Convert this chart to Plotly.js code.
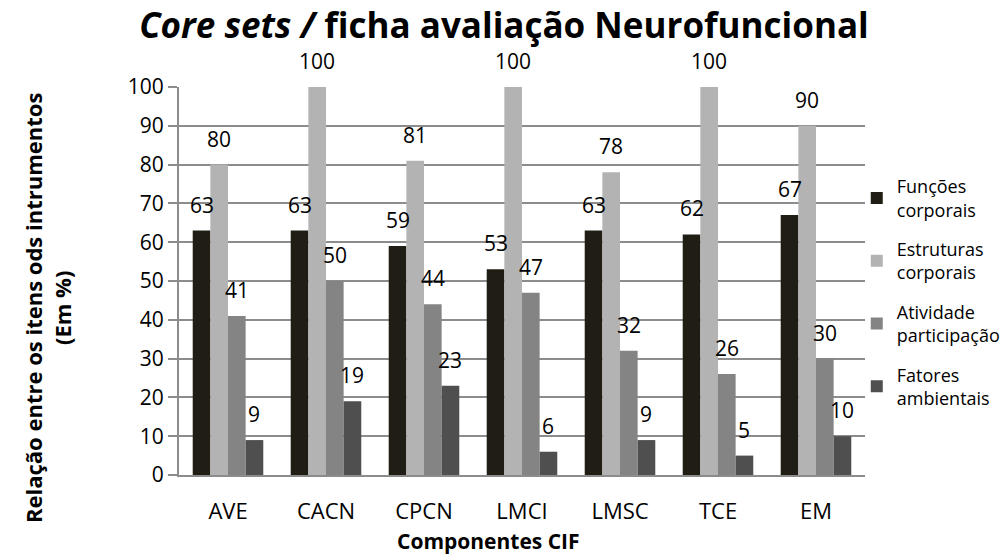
<!DOCTYPE html>
<html>
<head>
<meta charset="utf-8">
<script src="https://cdn.plot.ly/plotly-3.0.1.min.js"></script>
<style>html,body{margin:0;padding:0;background:#fff;}#chart{width:1005px;height:556px;}</style>
</head>
<body>
<div id="chart"></div>
<script>
const categories = ['AVE', 'CACN', 'CPCN', 'LMCI', 'LMSC', 'TCE', 'EM'];
const seriesNames = ['Funções<br>corporais', 'Estruturas<br>corporais', 'Atividade<br>participação', 'Fatores<br>ambientais'];
const funcoesCorporais = [63, 63, 59, 53, 63, 62, 67];
const estruturasCorporais = [80, 100, 81, 100, 78, 100, 90];
const atividadeParticipacao = [41, 50, 44, 47, 32, 26, 30];
const fatoresAmbientais = [9, 19, 23, 6, 9, 5, 10];
const yTicks = [0, 10, 20, 30, 40, 50, 60, 70, 80, 90, 100];

const seriesValues = [funcoesCorporais, estruturasCorporais, atividadeParticipacao, fatoresAmbientais];
const colors = ['#201e14', '#b3b3b3', '#848484', '#4f4f4f'];
const FONT = '"Open Sans", sans-serif';

const traces = seriesValues.map((vals, i) => ({
  type: 'bar',
  name: seriesNames[i],
  x: categories,
  y: vals,
  marker: {color: colors[i]},
  legendgroup: 'g' + i,
  hoverinfo: 'x+y'
}));

const plotW = 1005 - 179 - 140;
const catW = plotW / categories.length;
const bargap = 0.28;
const barW = catW * (1 - bargap) / seriesValues.length;

const annotations = [];
seriesValues.forEach((vals, i) => {
  vals.forEach((v, j) => {
    annotations.push({
      x: categories[j], y: v, xref: 'x', yref: 'y',
      text: String(v), showarrow: false,
      xshift: (i - (seriesValues.length - 1) / 2) * barW,
      yshift: 26, yanchor: 'middle', xanchor: 'center',
      font: {family: FONT, size: 21, color: '#000'}
    });
  });
});

annotations.push({
  xref: 'paper', yref: 'paper', x: (47 - 179) / plotW, y: (475 - 308) / 388,
  text: '<b>Relação entre os itens ods intrumentos<br>(Em %)</b>', textangle: -90,
  showarrow: false, xanchor: 'center', yanchor: 'middle',
  font: {family: FONT, size: 22, color: '#000'}
});
annotations.push({
  xref: 'paper', yref: 'paper', x: (488 - 179) / plotW, y: (475 - 541) / 388,
  text: '<b>Componentes CIF</b>',
  showarrow: false, xanchor: 'center', yanchor: 'middle',
  font: {family: FONT, size: 21, color: '#000'}
});

const layout = {
  width: 1005, height: 556,
  margin: {l: 179, r: 140, t: 87, b: 81, autoexpand: false},
  paper_bgcolor: '#fff', plot_bgcolor: '#fff',
  barmode: 'group', bargap: bargap, bargroupgap: 0,
  title: {
    text: '<b><i>Core sets /</i> ficha avaliação Neurofuncional</b>',
    x: 504 / 1005, xanchor: 'center', y: 1 - 26 / 556, yanchor: 'middle', yref: 'container',
    font: {family: FONT, size: 35, color: '#000'}
  },
  xaxis: {
    type: 'category',
    showline: true, linecolor: '#8c8c8c', linewidth: 2,
    ticks: '', showgrid: false,
    tickfont: {family: FONT, size: 22, color: '#000'},
    ticklabelstandoff: 16
  },
  yaxis: {
    range: [0, 100], tickvals: yTicks, ticktext: yTicks.map(String),
    showgrid: true, gridcolor: '#8c8c8c', gridwidth: 2,
    showline: true, linecolor: '#8c8c8c', linewidth: 2,
    ticks: 'outside', ticklen: 9, tickcolor: '#8c8c8c', tickwidth: 2,
    tickfont: {family: FONT, size: 21, color: '#000'},
    zeroline: false
  },
  showlegend: true,
  legend: {
    x: 0.988, xanchor: 'left', y: (475 - 168) / 388, yanchor: 'top',
    font: {family: FONT, size: 18, color: '#000'},
    tracegroupgap: 13, traceorder: 'grouped',
    bgcolor: 'rgba(0,0,0,0)'
  },
  annotations: annotations
};

Plotly.newPlot('chart', traces, layout, {displayModeBar: false, staticPlot: true});
</script>
</body>
</html>
